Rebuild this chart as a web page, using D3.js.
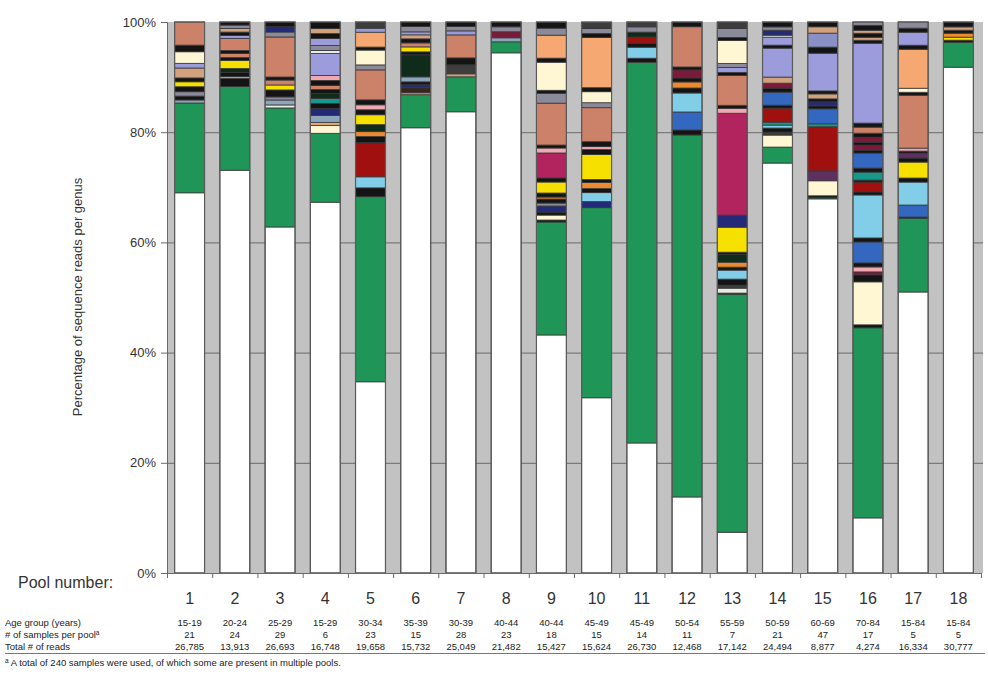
<!DOCTYPE html>
<html>
<head>
<meta charset="utf-8">
<script src="https://cdn.jsdelivr.net/npm/d3@7"></script>
<style>
  html, body { margin: 0; padding: 0; background: #ffffff; }
  svg { display: block; font-family: Arial, "Liberation Sans", sans-serif; }
</style>
</head>
<body>
<svg id="chart" width="988" height="681"></svg>
<script>
// ---------------- DATA ----------------
const poolNumbers = ["1","2","3","4","5","6","7","8","9","10","11","12","13","14","15","16","17","18"];
const ageGroups = ["15-19","20-24","25-29","15-29","30-34","35-39","30-39","40-44","40-44","45-49","45-49","50-54","55-59","50-59","60-69","70-84","15-84","15-84"];
const samplesPerPool = ["21","24","29","6","23","15","28","23","18","15","14","11","7","21","47","17","5","5"];
const totalReads = ["26,785","13,913","26,693","16,748","19,658","15,732","25,049","21,482","15,427","15,624","26,730","12,468","17,142","24,494","8,877","4,274","16,334","30,777"];
const yTicks = [0, 20, 40, 60, 80, 100];

// genus groups (stacked bottom -> top), percentage of reads per genus for each pool
const pool01 = [["W",69.0],["G",16.3],["GB",0.55],["K",0.7],["GR",0.8],["K",0.9],["YE",0.9],["K",0.7],["TN",1.8],["LV",0.85],["CR",2.1],["K",1.2],["SA",4.2]];
const pool02 = [["W",73.1],["G",15.2],["K",1.45],["GB",0.36],["K",0.73],["DK",0.73],["YE",1.45],["K",0.54],["SA",0.73],["K",0.54],["SA",2.2],["LV",0.54],["K",0.6],["TN",0.67],["GR",0.6],["K",0.56]];
const pool03 = [["W",62.8],["G",21.6],["LT",0.55],["GB",0.9],["GR",0.55],["K",1.27],["YE",0.9],["SA",0.9],["K",0.55],["SA",7.26],["GR",0.9],["NV",0.96],["K",0.86]];
const pool04 = [["W",67.3],["G",12.5],["CR",1.45],["PE",0.54],["GB",1.27],["NV",1.27],["K",0.9],["TE",0.9],["DK",0.9],["K",0.73],["SA",0.73],["K",0.9],["PK",0.9],["LV",4.0],["LT",0.54],["GR",0.9],["LV",1.27],["K",0.9],["TN",0.9],["K",1.2]];
const pool05 = [["W",34.7],["G",33.6],["K",1.6],["LB",2.0],["DR",6.2],["K",1.1],["OR",0.9],["DK",1.27],["YE",1.8],["K",0.9],["PK",0.9],["K",0.9],["SA",5.44],["GR",0.9],["CR",2.7],["K",0.54],["PE",2.7],["LV",0.73],["DG",1.12]];
const pool06 = [["W",80.8],["G",6.0],["TN",0.36],["DB",0.9],["NV",0.54],["K",0.54],["GB",0.9],["DK",4.0],["K",0.54],["YE",0.9],["SA",0.73],["K",0.73],["TN",0.73],["LV",0.54],["GR",0.96],["K",0.83]];
const pool07 = [["W",83.7],["G",6.35],["TN",0.54],["DG",1.63],["K",1.27],["SA",4.17],["LV",0.73],["GR",0.78],["K",0.83]];
const pool08 = [["W",94.4],["G",2.0],["GB",0.73],["MR",1.1],["GR",0.9],["K",0.87]];
const pool09 = [["W",43.2],["G",20.5],["K",0.36],["CR",0.9],["K",0.54],["NV",1.1],["GR",0.54],["K",0.73],["OR",0.36],["K",0.73],["YE",2.0],["K",0.73],["MG",4.54],["PK",0.9],["K",0.54],["SA",7.6],["GR",1.8],["K",0.54],["CR",5.1],["K",0.73],["PE",4.17],["GR",1.27],["K",1.12]];
const pool10 = [["W",31.8],["G",34.5],["NV",1.1],["LB",1.63],["K",0.73],["OR",1.1],["K",0.54],["YE",4.54],["K",0.9],["PK",0.54],["K",0.9],["SA",6.17],["GR",0.9],["CR",2.0],["K",0.73],["PE",9.1],["K",0.73],["GR",0.9],["DG",1.15]];
const pool11 = [["W",23.6],["G",69.1],["K",0.73],["LB",2.0],["K",0.73],["DR",1.1],["DK",0.9],["GR",0.96],["DG",0.88]];
const pool12 = [["W",13.8],["G",65.7],["K",0.9],["BL",3.27],["LB",3.45],["K",0.9],["OR",1.1],["K",0.73],["MR",1.45],["K",0.54],["SA",7.3],["K",0.86]];
const pool13 = [["W",7.4],["G",43.2],["K",0.2],["LT",0.9],["DG",0.54],["K",1.1],["LB",1.63],["K",0.54],["OR",0.9],["DK",1.45],["K",0.36],["YE",4.54],["NV",2.18],["MG",18.5],["PK",0.9],["K",0.54],["SA",5.44],["K",0.54],["LV",0.9],["GR",0.73],["CR",4.17],["K",0.54],["GR",1.63],["DG",1.17]];
const pool14 = [["W",74.4],["G",2.9],["CR",2.18],["DG",0.54],["K",0.73],["LB",0.54],["TE",0.54],["DR",2.54],["K",0.54],["BL",2.36],["K",0.73],["MR",0.9],["TN",1.1],["LV",5.26],["K",0.54],["LV",1.45],["LT",0.36],["NV",0.9],["GR",0.6],["K",0.89]];
const pool15 = [["W",67.9],["G",0.2],["K",0.36],["CR",2.72],["DP",1.8],["DR",8.0],["TE",0.54],["BL",2.72],["K",0.54],["NV",0.73],["K",0.54],["TN",0.9],["K",0.54],["LV",6.85],["K",1.1],["SL",2.54],["TN",1.15],["K",0.87]];
const pool16 = [["W",10.0],["G",34.5],["K",0.54],["CR",7.8],["K",1.27],["MR",0.54],["PK",0.9],["K",0.73],["BL",3.8],["K",0.73],["LB",7.8],["K",0.54],["DR",1.8],["K",0.36],["TE",1.45],["K",0.73],["BL",2.72],["K",0.54],["MR",0.9],["K",0.54],["MR",0.9],["K",0.73],["SA",1.1],["K",0.73],["LV",14.5],["K",0.54],["TN",0.54],["K",0.73],["TN",0.54],["K",0.9],["GR",0.6]];
const pool17 = [["W",51.0],["G",13.4],["K",0.2],["BL",2.18],["LB",4.17],["K",0.73],["YE",2.9],["K",0.73],["DP",0.9],["K",0.36],["PK",0.54],["SA",9.6],["K",0.54],["CR",0.73],["PE",7.08],["K",0.73],["LV",2.36],["K",0.73],["GR",1.12]];
const pool18 = [["W",91.8],["G",4.54],["K",0.36],["YE",0.54],["OR",0.73],["K",0.54],["TN",0.6],["K",0.89]];
const poolStacks = [pool01,pool02,pool03,pool04,pool05,pool06,pool07,pool08,pool09,pool10,pool11,pool12,pool13,pool14,pool15,pool16,pool17,pool18];

// ---------------- STYLE ----------------
const genusColor = {
  W:"#ffffff", G:"#1f9657", K:"#141414", DG:"#3d3d3d", GR:"#8a8a9a", LV:"#9c9cdc", SL:"#8a90c6",
  SA:"#cc8169", PE:"#f6a872", CR:"#fff7d4", YE:"#f5e000", LB:"#82cde8", BL:"#3468c0",
  NV:"#232a78", DR:"#a0100f", MG:"#b2245e", OR:"#ec8a30", TE:"#16988a", TN:"#d2a27f",
  DK:"#0f2b1a", PK:"#f0a8b2", GB:"#8ea6bc", MR:"#7c1a3c", DP:"#5d3060", LT:"#e6ede0", DB:"#3a2618"
};

const svg = d3.select("#chart");
const plotLeft = 167, plotRight = 981, plotTop = 22, plotBottom = 573;

const x = d3.scaleBand().domain(poolNumbers).range([plotLeft, plotRight])
  .paddingInner(0.338).paddingOuter(0.169);
const y = d3.scaleLinear().domain([0, 100]).range([plotBottom, plotTop]);
const xEdge = d3.scaleLinear().domain([0, poolNumbers.length]).range([plotLeft, plotRight]);

// plot background
svg.append("rect").attr("x", plotLeft).attr("y", plotTop)
  .attr("width", plotRight - plotLeft + 2).attr("height", plotBottom - plotTop)
  .attr("fill", "#c2c2c2");

// gridlines
svg.append("g").selectAll("line").data(yTicks.filter(d => d > 0 && d < 100)).join("line")
  .attr("x1", plotLeft).attr("x2", plotRight + 2)
  .attr("y1", d => y(d) + 0.5).attr("y2", d => y(d) + 0.5)
  .attr("stroke", "#6a6a6a").attr("stroke-width", 1);

// bars
const barG = svg.append("g");
poolStacks.forEach((segs, i) => {
  const ends = d3.cumsum(segs, d => d[1]);
  const rows = segs.map((d, j) => ({ code: d[0], y0: ends[j] - d[1], y1: Math.min(100, ends[j]) }));
  const g = barG.append("g");
  g.selectAll("rect").data(rows).join("rect")
    .attr("x", x(poolNumbers[i]))
    .attr("width", x.bandwidth())
    .attr("y", d => y(d.y1))
    .attr("height", d => Math.max(0, y(d.y0) - y(d.y1)))
    .attr("fill", d => genusColor[d.code])
    .attr("stroke", "#383838").attr("stroke-width", 0.8);
  // bar outline
  g.append("rect")
    .attr("x", x(poolNumbers[i])).attr("width", x.bandwidth())
    .attr("y", y(100)).attr("height", y(0) - y(100))
    .attr("fill", "none").attr("stroke", "#5a5a5a").attr("stroke-width", 1.2);
});

// y axis
const yAxis = svg.append("g").attr("transform", `translate(${plotLeft},0)`)
  .call(d3.axisLeft(y).tickValues(yTicks).tickFormat(d => d + "%").tickSize(6).tickPadding(5));
yAxis.select(".domain").attr("stroke", "#6a6a6a");
yAxis.selectAll(".tick line").attr("stroke", "#6a6a6a");
yAxis.selectAll(".tick text").attr("font-size", 13).attr("fill", "#333")
  .attr("font-family", "Arial, 'Liberation Sans', sans-serif");

// x axis line with ticks at band edges
const xAxis = svg.append("g").attr("transform", `translate(0,${plotBottom})`)
  .call(d3.axisBottom(xEdge).tickValues(d3.range(0, poolNumbers.length + 1)).tickFormat("").tickSize(5).tickSizeOuter(0));
xAxis.select(".domain").attr("stroke", "#6a6a6a");
xAxis.selectAll(".tick line").attr("stroke", "#6a6a6a");

// y axis title
svg.append("text")
  .attr("transform", "translate(82,297) rotate(-90)")
  .attr("text-anchor", "middle").attr("font-size", 13).attr("fill", "#333")
  .text("Percentage of sequence reads per genus");

// pool number row
svg.append("text").attr("x", 18).attr("y", 588).attr("font-size", 16).attr("fill", "#333")
  .text("Pool number:");
svg.append("g").selectAll("text").data(poolNumbers).join("text")
  .attr("x", d => x(d) + x.bandwidth() / 2).attr("y", 604)
  .attr("text-anchor", "middle").attr("font-size", 16).attr("fill", "#333")
  .text(d => d);

// table rows
const rowY = [626, 638, 650];
const rowLabels = ["Age group (years)", "# of samples per pool", "Total # of reads"];
const rowVals = [ageGroups, samplesPerPool, totalReads];
rowLabels.forEach((lab, r) => {
  const t = svg.append("text").attr("x", 5).attr("y", rowY[r]).attr("font-size", 9.5).attr("fill", "#222")
    .text(lab);
  if (r === 1) t.append("tspan").attr("font-size", 6.5).attr("dy", -3).text("a");
  svg.append("g").selectAll("text").data(rowVals[r]).join("text")
    .attr("x", (d, i) => x(poolNumbers[i]) + x.bandwidth() / 2).attr("y", rowY[r])
    .attr("text-anchor", "middle").attr("font-size", 9.5).attr("fill", "#222")
    .text(d => d);
});
svg.append("line").attr("x1", 5).attr("x2", 985).attr("y1", 653.5).attr("y2", 653.5)
  .attr("stroke", "#777").attr("stroke-width", 1);

// footnote
const fn = svg.append("text").attr("x", 5).attr("y", 666).attr("font-size", 9.5).attr("fill", "#222");
fn.append("tspan").attr("font-size", 6.5).attr("dy", -3).text("a");
fn.append("tspan").attr("dy", 3).text(" A total of 240 samples were used, of which some are present in multiple pools.");
</script>
</body>
</html>
